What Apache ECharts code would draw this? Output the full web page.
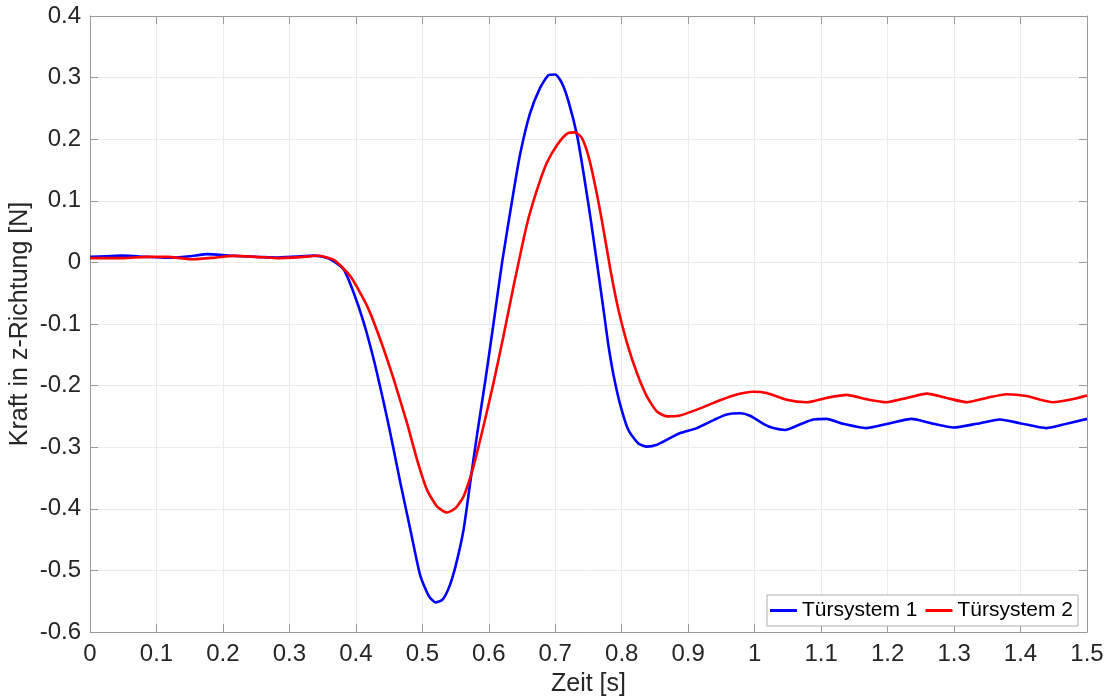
<!DOCTYPE html>
<html>
<head>
<meta charset="utf-8">
<script src="https://cdn.jsdelivr.net/npm/echarts@6/dist/echarts.min.js"></script>
<style>
  html, body { margin: 0; padding: 0; background: #fff; }
  #chart { width: 1108px; height: 697px; }
</style>
</head>
<body>
<div id="chart"></div>
<script>
// Force in z-direction over time for two door systems
const seriesNames = ['Türsystem 1', 'Türsystem 2'];

const timeSys1 = [0, 0.025, 0.05, 0.085, 0.116, 0.15, 0.177, 0.21, 0.25, 0.28, 0.31, 0.337, 0.355,
  0.367, 0.382, 0.397, 0.412, 0.427, 0.442, 0.452, 0.467, 0.482, 0.497, 0.51, 0.52, 0.53, 0.54,
  0.55, 0.562, 0.572, 0.582, 0.595, 0.607, 0.62, 0.635, 0.647, 0.662, 0.677, 0.69, 0.70, 0.71,
  0.72, 0.733, 0.743, 0.753, 0.763, 0.773, 0.780, 0.788, 0.798, 0.810, 0.825, 0.838,
  0.853, 0.873, 0.888, 0.913, 0.938, 0.958, 0.978, 0.993, 1.013, 1.028, 1.046, 1.068, 1.088,
  1.108, 1.133, 1.168, 1.204, 1.236, 1.269, 1.299, 1.334, 1.369, 1.399, 1.439, 1.469, 1.5];
const forceSys1 = [0.009, 0.010, 0.011, 0.009, 0.0075, 0.010, 0.0135, 0.011, 0.009, 0.008, 0.0095,
  0.011, 0.008, 0.0015, -0.012, -0.05, -0.098, -0.158, -0.228, -0.278, -0.358, -0.434, -0.509,
  -0.542, -0.552, -0.548, -0.528, -0.493, -0.434, -0.358, -0.282, -0.19, -0.10, 0.0, 0.10,
  0.175, 0.242, 0.283, 0.304, 0.305, 0.291, 0.261, 0.205, 0.142, 0.072, -0.003, -0.08,
  -0.135, -0.185, -0.232, -0.272, -0.294, -0.299, -0.296, -0.285, -0.277, -0.269, -0.256,
  -0.247, -0.245, -0.249, -0.262, -0.269, -0.272, -0.263, -0.255, -0.254, -0.262, -0.269,
  -0.261, -0.254, -0.262, -0.268, -0.262, -0.255, -0.261, -0.269, -0.262, -0.254];

const timeSys2 = [0, 0.05, 0.085, 0.116, 0.156, 0.19, 0.216, 0.25, 0.28, 0.3165, 0.342, 0.367,
  0.392, 0.417, 0.437, 0.457, 0.477, 0.492, 0.507, 0.522, 0.537, 0.55, 0.562, 0.577, 0.592,
  0.607, 0.622, 0.637, 0.657, 0.672, 0.687, 0.703, 0.718, 0.730, 0.740, 0.750, 0.760, 0.770,
  0.783, 0.795, 0.808, 0.823, 0.838, 0.853, 0.868, 0.886, 0.913, 0.938, 0.968, 0.998, 1.018,
  1.048, 1.078, 1.108, 1.138, 1.168, 1.198, 1.229, 1.259, 1.289, 1.319, 1.349, 1.379, 1.409,
  1.449, 1.474, 1.5];
const forceSys2 = [0.007, 0.007, 0.009, 0.009, 0.005, 0.008, 0.0106, 0.009, 0.007, 0.0086, 0.0107,
  0.004, -0.023, -0.071, -0.126, -0.190, -0.261, -0.320, -0.369, -0.396, -0.406, -0.399,
  -0.380, -0.331, -0.266, -0.196, -0.120, -0.040, 0.060, 0.116, 0.161, 0.191, 0.209, 0.211,
  0.202, 0.172, 0.125, 0.069, -0.012, -0.077, -0.131, -0.180, -0.218, -0.242, -0.250, -0.249,
  -0.239, -0.228, -0.216, -0.210, -0.212, -0.223, -0.227, -0.220, -0.215, -0.222, -0.227,
  -0.220, -0.213, -0.220, -0.227, -0.220, -0.214, -0.217, -0.227, -0.223, -0.216];

const xTitle = 'Zeit [s]';
const yTitle = 'Kraft in z-Richtung [N]';

const pair = (ts, vs) => ts.map((t, i) => [t, vs[i]]);

const FONT = '"Liberation Sans", Arial, Helvetica, sans-serif';
const AXIS_GRAY = '#9a9a9a';
const TEXT = '#262626';

const chart = echarts.init(document.getElementById('chart'), null, { renderer: 'canvas' });

// mirrored axes on top and right close the box, ticks only
const boxAxis = {
  axisLine: { show: true, onZero: false, lineStyle: { color: AXIS_GRAY, width: 1 } },
  axisTick: { show: true, inside: true, length: 8, lineStyle: { color: AXIS_GRAY } },
  axisLabel: { show: false },
  splitLine: { show: false }
};

chart.setOption({
  animation: false,
  backgroundColor: '#fff',
  grid: { left: 90, right: 21, top: 16, bottom: 65, containLabel: false, outerBoundsMode: 'none' },
  xAxis: [
    {
      type: 'value', min: 0, max: 1.5, interval: 0.1, position: 'bottom',
      name: xTitle, nameLocation: 'middle', nameGap: 40, nameMoveOverlap: false,
      nameTextStyle: { fontFamily: FONT, fontSize: 25, color: TEXT },
      axisLine: { show: true, onZero: false, lineStyle: { color: AXIS_GRAY, width: 1 } },
      axisTick: { show: true, inside: true, length: 8, lineStyle: { color: AXIS_GRAY } },
      axisLabel: { fontFamily: FONT, fontSize: 24, color: TEXT, margin: 10 },
      splitLine: { show: true, lineStyle: { color: '#ebebeb', width: 1 } }
    },
    Object.assign({ type: 'value', min: 0, max: 1.5, interval: 0.1, position: 'top' }, boxAxis)
  ],
  yAxis: [
    {
      type: 'value', min: -0.6, max: 0.4, interval: 0.1, position: 'left',
      name: yTitle, nameLocation: 'middle', nameGap: 57, nameRotate: 90, nameMoveOverlap: false,
      nameTextStyle: { fontFamily: FONT, fontSize: 25, color: TEXT },
      axisLine: { show: true, onZero: false, lineStyle: { color: AXIS_GRAY, width: 1 } },
      axisTick: { show: true, inside: true, length: 8, lineStyle: { color: AXIS_GRAY } },
      axisLabel: { fontFamily: FONT, fontSize: 24, color: TEXT, margin: 9 },
      splitLine: { show: true, lineStyle: { color: '#ebebeb', width: 1 } }
    },
    Object.assign({ type: 'value', min: -0.6, max: 0.4, interval: 0.1, position: 'right' }, boxAxis)
  ],
  legend: {
    right: 30, bottom: 71,
    orient: 'horizontal',
    itemWidth: 27, itemHeight: 3, itemGap: 8,
    padding: [5, 5, 5, 3],
    backgroundColor: '#fff',
    borderColor: '#b0b0b0', borderWidth: 1,
    textStyle: { fontFamily: FONT, fontSize: 21, color: '#000' },
    data: seriesNames.map(n => ({ name: n, icon: 'rect' }))
  },
  series: [
    {
      name: seriesNames[0], type: 'line', data: pair(timeSys1, forceSys1),
      showSymbol: false, symbol: 'none', smooth: 0.2,
      lineStyle: { color: '#0000ff', width: 2.6 }, itemStyle: { color: '#0000ff' },
      z: 3
    },
    {
      name: seriesNames[1], type: 'line', data: pair(timeSys2, forceSys2),
      showSymbol: false, symbol: 'none', smooth: 0.2,
      lineStyle: { color: '#ff0000', width: 2.6 }, itemStyle: { color: '#ff0000' },
      z: 4
    }
  ]
});
</script>
</body>
</html>
